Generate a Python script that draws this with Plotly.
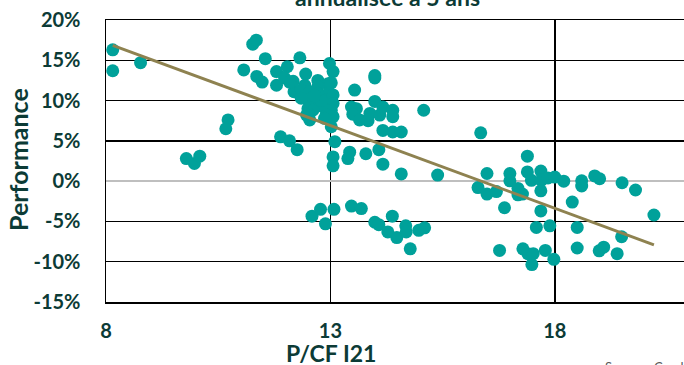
import plotly.graph_objects as go

# P/CF I21 (x) and annualised 5-year performance in % (y)
pcf = [
    8.15, 8.15, 8.77, 9.79, 9.97, 10.09, 10.72, 10.67, 11.07, 11.27, 11.35, 11.55, 12.32,
    11.36, 11.48, 11.80, 12.04, 11.80, 11.98, 12.19, 12.17, 12.09,
    12.98, 13.06, 12.45, 12.72, 12.95, 13.02, 12.43, 12.35, 12.54, 12.72, 12.72, 12.95,
    13.06, 12.50, 12.35, 12.76, 12.91, 13.06, 12.65, 12.84, 13.02, 12.50, 12.61, 13.06,
    12.91, 13.02, 12.50, 12.54, 12.87, 12.47, 12.80, 12.65,
    13.99, 13.99, 13.54, 13.99, 13.47, 13.58, 13.50, 13.65, 13.84, 13.88, 14.10, 14.17,
    14.39, 14.39, 14.17, 14.39, 14.58, 15.08, 16.35,
    11.89, 12.09, 12.26, 13.10, 13.06, 13.06, 13.43, 13.39, 13.79, 14.08, 14.17, 14.58, 15.39,
    12.59, 12.78, 12.89, 13.08, 13.47, 13.69, 13.99, 14.08, 14.38, 14.28, 14.48, 14.68,
    14.69, 14.97, 15.10, 14.78,
    17.39, 16.49, 17.00, 17.00, 16.29, 16.49, 16.70, 17.18, 17.28, 17.18, 16.88, 17.39,
    17.48, 17.69, 17.70, 17.85, 18.00, 17.69, 18.20, 18.60, 18.60, 18.89, 19.00, 19.50,
    19.80, 18.39, 17.69, 20.21, 17.59, 17.89, 18.50, 19.49, 16.77, 17.29, 17.40, 17.52,
    17.49, 17.79, 17.98, 18.50, 18.99, 19.09, 19.39,
]
performance = [
    16.3, 13.7, 14.7, 2.8, 2.2, 3.1, 7.6, 6.5, 13.8, 17.0, 17.5, 15.2, 15.3,
    13.0, 12.3, 13.6, 14.2, 11.9, 12.8, 11.1, 12.4, 12.3,
    14.6, 13.6, 13.3, 12.5, 12.1, 12.2, 11.9, 11.3, 11.1, 11.7, 10.9, 10.9,
    10.7, 10.1, 10.3, 10.5, 9.85, 9.65, 9.2, 9.2, 8.8, 9.0, 8.8, 8.0,
    8.2, 6.75, 8.4, 7.6, 7.8, 8.2, 10.0, 10.6,
    12.8, 13.1, 11.3, 9.9, 9.2, 9.0, 8.3, 7.6, 7.5, 8.4, 8.2, 9.2,
    8.8, 8.0, 6.3, 6.1, 6.1, 8.8, 6.0,
    5.5, 5.0, 3.9, 4.9, 3.0, 1.9, 3.6, 2.8, 3.4, 3.9, 2.1, 0.9, 0.75,
    -4.35, -3.5, -5.3, -3.5, -3.1, -3.4, -5.1, -5.4, -4.35, -6.3, -7.0, -5.55,
    -6.3, -6.1, -5.8, -8.4,
    3.1, 0.95, 0.95, 0.04, -0.8, -1.6, -1.3, -0.9, -1.6, -1.7, -3.3, 1.15,
    0.1, 1.25, 0.1, 0.4, 0.5, -1.2, 0.0, 0.04, -0.6, 0.65, 0.3, -0.2,
    -1.1, -2.6, -3.7, -4.2, -5.75, -5.55, -5.75, -6.9, -8.6, -8.4, -9.0, -9.0,
    -10.35, -8.6, -9.7, -8.3, -8.65, -8.2, -9.0,
]

# Trend line end points
trend_x = [8.15, 20.21]
trend_y = [16.85, -7.9]

y_ticks = [-15, -10, -5, 0, 5, 10, 15, 20]
y_tick_labels = ["-15%", "-10%", "-5%", "0%", "5%", "10%", "15%", "20%"]
x_ticks = [8, 13, 18]
x_tick_labels = ["8", "13", "18"]

DARK = "#0c3b36"
TEAL = "#00a19a"
OLIVE = "#8e8250"
FONT = "Lato"

fig = go.Figure()
fig.add_trace(go.Scatter(
    x=pcf, y=performance, mode="markers",
    marker=dict(size=13, color=TEAL, line=dict(width=0)),
    hoverinfo="skip", showlegend=False,
))
fig.add_trace(go.Scatter(
    x=trend_x, y=trend_y, mode="lines",
    line=dict(color=OLIVE, width=3),
    hoverinfo="skip", showlegend=False,
))

fig.update_layout(
    width=684, height=365,
    margin=dict(l=106, r=0, t=20, b=63),
    paper_bgcolor="white", plot_bgcolor="white",
    font=dict(family=FONT, color=DARK),
    xaxis=dict(
        range=[8, 20.88], tickvals=x_ticks, ticktext=x_tick_labels,
        showgrid=True, gridcolor="black", gridwidth=1.5,
        zeroline=False, showline=True, linecolor="black", linewidth=1.5, mirror=True,
        ticks="", ticklabelstandoff=10,
        tickfont=dict(family=FONT, size=20, color=DARK, weight="bold"),
    ),
    yaxis=dict(
        range=[-15, 20], tickvals=y_ticks, ticktext=y_tick_labels,
        showgrid=True, gridcolor="black", gridwidth=1.5,
        zeroline=True, zerolinecolor="#bfbfbf", zerolinewidth=2.5,
        showline=True, linecolor="black", linewidth=1.5,
        ticks="", ticklabelstandoff=20,
        tickfont=dict(family=FONT, size=20, color=DARK, weight="bold"),
    ),
    annotations=[
        dict(text="<b>Performance<br>annualisée à 5 ans</b>", xref="paper", yref="paper",
             x=(387 - 106) / 578, y=(302 - 13) / 282, xanchor="center", yanchor="bottom",
             showarrow=False, font=dict(family=FONT, size=23, color=DARK)),
        dict(text="<b>Performance</b>", xref="paper", yref="paper",
             x=(18 - 106) / 578, y=(302 - 160) / 282, xanchor="center", yanchor="middle",
             textangle=-90, showarrow=False, font=dict(family=FONT, size=25, color=DARK)),
        dict(text="<b>P/CF I21</b>", xref="paper", yref="paper",
             x=(331 - 106) / 578, y=(302 - 353) / 282, xanchor="center", yanchor="middle",
             showarrow=False, font=dict(family=FONT, size=23, color=DARK)),
        dict(text="Source : Candriam", xref="paper", yref="paper",
             x=(603 - 106) / 578, y=(302 - 357) / 282, xanchor="left", yanchor="top",
             showarrow=False, font=dict(family=FONT, size=13, color="#595959")),
    ],
)

fig.write_html(
    "out.html",
    config={"displayModeBar": False, "staticPlot": True},
    post_script="document.body.style.margin='0';document.body.style.overflow='hidden';",
)
